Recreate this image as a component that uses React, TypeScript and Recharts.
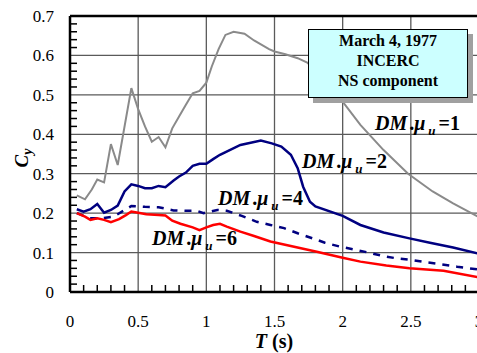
import React from "react";
import {
  LineChart,
  Line,
  XAxis,
  YAxis,
  CartesianGrid,
  ReferenceLine,
} from "recharts";

const SERIF = "'Liberation Serif', 'DejaVu Serif', 'Times New Roman', Times, serif";

// periods T (s) and Cy readings for each ductility curve
const T_MU1 = [0.05, 0.11, 0.16, 0.2, 0.25, 0.3, 0.35, 0.45, 0.5, 0.55, 0.6, 0.65, 0.7, 0.75, 0.8, 0.85, 0.9, 0.95, 1.0, 1.04, 1.09, 1.14, 1.2, 1.28, 1.35, 1.46, 1.5, 1.58, 1.67, 1.74, 1.85, 1.99, 2.13, 2.3, 2.48, 2.66, 2.81, 3.0];
const C_MU1 = [0.245, 0.235, 0.26, 0.285, 0.278, 0.375, 0.322, 0.517, 0.464, 0.42, 0.381, 0.393, 0.367, 0.415, 0.445, 0.475, 0.504, 0.51, 0.531, 0.572, 0.616, 0.652, 0.66, 0.655, 0.638, 0.616, 0.61, 0.603, 0.593, 0.582, 0.545, 0.487, 0.424, 0.36, 0.3, 0.255, 0.225, 0.19];

const T_MU2 = [0.05, 0.1, 0.15, 0.2, 0.25, 0.3, 0.35, 0.4, 0.45, 0.5, 0.55, 0.6, 0.65, 0.7, 0.76, 0.8, 0.85, 0.9, 0.95, 1.0, 1.05, 1.1, 1.25, 1.4, 1.48, 1.55, 1.62, 1.67, 1.71, 1.76, 1.8, 2.0, 2.13, 2.3, 2.49, 2.64, 2.81, 3.0];
const C_MU2 = [0.21, 0.204, 0.21, 0.223, 0.201, 0.208, 0.219, 0.255, 0.273, 0.269, 0.263, 0.263, 0.269, 0.266, 0.283, 0.293, 0.303, 0.32, 0.325, 0.325, 0.337, 0.348, 0.373, 0.384, 0.377, 0.369, 0.348, 0.314, 0.267, 0.229, 0.217, 0.193, 0.17, 0.151, 0.136, 0.125, 0.113, 0.097];

const T_MU4 = [0.05, 0.15, 0.23, 0.32, 0.45, 0.55, 0.65, 0.76, 0.86, 0.93, 0.98, 1.08, 1.15, 1.26, 1.37, 1.47, 1.57, 1.67, 1.78, 1.87, 1.98, 2.08, 2.19, 2.3, 2.4, 2.51, 2.62, 2.73, 2.84, 3.0];
const C_MU4 = [0.2, 0.187, 0.187, 0.191, 0.218, 0.216, 0.215, 0.207, 0.206, 0.206, 0.2, 0.208, 0.206, 0.193, 0.178, 0.17, 0.162, 0.149, 0.136, 0.125, 0.115, 0.108, 0.1, 0.091, 0.085, 0.081, 0.075, 0.07, 0.064, 0.057];

const T_MU6 = [0.05, 0.11, 0.15, 0.2, 0.25, 0.3, 0.36, 0.41, 0.45, 0.5, 0.56, 0.65, 0.7, 0.75, 0.81, 0.9, 0.95, 1.0, 1.05, 1.1, 1.15, 1.25, 1.35, 1.47, 1.81, 2.0, 2.13, 2.32, 2.49, 2.74, 3.0];
const C_MU6 = [0.2, 0.191, 0.183, 0.187, 0.183, 0.177, 0.185, 0.195, 0.204, 0.201, 0.197, 0.195, 0.194, 0.181, 0.173, 0.164, 0.157, 0.164, 0.17, 0.173, 0.166, 0.153, 0.142, 0.128, 0.102, 0.087, 0.077, 0.067, 0.06, 0.054, 0.037];

const X_TICKS = [0, 0.5, 1, 1.5, 2, 2.5, 3];
const Y_TICKS = [0, 0.1, 0.2, 0.3, 0.4, 0.5, 0.6, 0.7];
const X_MINOR = [0.1, 0.2, 0.3, 0.4, 0.6, 0.7, 0.8, 0.9, 1.1, 1.2, 1.3, 1.4, 1.6, 1.7, 1.8, 1.9, 2.1, 2.2, 2.3, 2.4, 2.6, 2.7, 2.8, 2.9];
const Y_MINOR = [0.02, 0.04, 0.06, 0.08, 0.12, 0.14, 0.16, 0.18, 0.22, 0.24, 0.26, 0.28, 0.32, 0.34, 0.36, 0.38, 0.42, 0.44, 0.46, 0.48, 0.52, 0.54, 0.56, 0.58, 0.62, 0.64, 0.66, 0.68];

const zip = (ts: number[], cs: number[]) => ts.map((t, i) => ({ t, c: cs[i] }));

const mu1 = zip(T_MU1, C_MU1);
const mu2 = zip(T_MU2, C_MU2);
const mu4 = zip(T_MU4, C_MU4);
const mu6 = zip(T_MU6, C_MU6);

const ANNOTATIONS = [
  { n: "1", left: 375, base: 130 },
  { n: "2", left: 302, base: 168 },
  { n: "4", left: 218, base: 205 },
  { n: "6", left: 152, base: 245 },
];

// chart box; the plot area follows from margins and axis sizes
const W = 490;
const H = 353;
const MARGIN = { top: 16, right: 11, left: 0, bottom: 0 };
const Y_AXIS_W = 70;
const X_AXIS_H = 61;
const PLOT = {
  left: MARGIN.left + Y_AXIS_W,
  right: W - MARGIN.right,
  top: MARGIN.top,
  bottom: H - MARGIN.bottom - X_AXIS_H,
};
const sx = (t: number) => PLOT.left + (t / 3) * (PLOT.right - PLOT.left);
const sy = (c: number) => PLOT.bottom - (c / 0.7) * (PLOT.bottom - PLOT.top);

// inward minor ticks on the left and bottom axes
function MinorTicks() {
  return (
    <svg
      width={477}
      height={353}
      style={{ position: "absolute", left: 0, top: 0, pointerEvents: "none", zIndex: 1 }}
    >
      {X_MINOR.map((t) => (
        <line key={`x${t}`} x1={sx(t)} x2={sx(t)} y1={PLOT.bottom} y2={PLOT.bottom - 7} stroke="#000" strokeWidth={1.5} />
      ))}
      {Y_MINOR.map((c) => (
        <line key={`y${c}`} x1={PLOT.left} x2={PLOT.left + 7} y1={sy(c)} y2={sy(c)} stroke="#000" strokeWidth={1.5} />
      ))}
    </svg>
  );
}

function DmLabel({ n, left, base }: { n: string; left: number; base: number }) {
  return (
    <div
      style={{
        position: "absolute",
        left,
        top: base - 17,
        fontFamily: SERIF,
        fontWeight: "bold",
        fontSize: 20,
        lineHeight: "20px",
        whiteSpace: "nowrap",
        color: "#000",
        zIndex: 2,
      }}
    >
      <i>DM</i>
      <span style={{ marginLeft: 2 }}>.</span>
      <i>μ</i>
      <i style={{ fontSize: 13, position: "relative", top: 5, marginLeft: 3, marginRight: 3 }}>u</i>
      ={n}
    </div>
  );
}

export default function App() {
  return (
    <div
      style={{
        position: "fixed",
        left: 0,
        top: 0,
        width: 477,
        height: 353,
        overflow: "hidden",
        background: "#fff",
      }}
    >
      <LineChart width={W} height={H} margin={MARGIN}>
        <CartesianGrid stroke="#5a5a5a" strokeWidth={1.3} />
        <XAxis
          type="number"
          dataKey="t"
          domain={[0, 3]}
          ticks={X_TICKS}
          interval={0}
          height={X_AXIS_H}
          tickSize={0}
          tickMargin={23}
          tickLine={false}
          axisLine={{ stroke: "#000", strokeWidth: 2.5 }}
          tick={{ fontFamily: SERIF, fontSize: 17, fill: "#000" }}
          label={{
            content: () => (
              <text x={274} y={348} textAnchor="middle" fontFamily={SERIF} fontSize={20} fontWeight="bold" fill="#000">
                <tspan fontStyle="italic">T</tspan>
                <tspan> (s)</tspan>
              </text>
            ),
          }}
        />
        <YAxis
          type="number"
          domain={[0, 0.7]}
          ticks={Y_TICKS}
          interval={0}
          width={Y_AXIS_W}
          tickSize={0}
          tickMargin={16}
          tickLine={false}
          axisLine={{ stroke: "#000", strokeWidth: 2.5 }}
          tick={{ fontFamily: SERIF, fontSize: 17, fill: "#000" }}
          label={{
            content: () => (
              <text
                x={28}
                y={158}
                transform="rotate(-90 28 158)"
                textAnchor="middle"
                fontFamily={SERIF}
                fontSize={19}
                fontWeight="bold"
                fontStyle="italic"
                fill="#000"
              >
                <tspan>C</tspan>
                <tspan fontSize={14} dy={4}>y</tspan>
              </text>
            ),
          }}
        />
        <ReferenceLine y={0.7} stroke="#000" strokeWidth={2.5} />
        <Line data={mu1} dataKey="c" type="linear" stroke="#8a8a8a" strokeWidth={2} dot={false} isAnimationActive={false} />
        <Line data={mu2} dataKey="c" type="linear" stroke="#000080" strokeWidth={2.5} dot={false} isAnimationActive={false} />
        <Line data={mu4} dataKey="c" type="linear" stroke="#000080" strokeWidth={2.5} strokeDasharray="7 7" dot={false} isAnimationActive={false} />
        <Line data={mu6} dataKey="c" type="linear" stroke="#ff0000" strokeWidth={2.5} dot={false} isAnimationActive={false} />
      </LineChart>

      <MinorTicks />

      <div
        style={{
          position: "absolute",
          left: 308,
          top: 29,
          width: 158,
          height: 66,
          background: "#ccffff",
          border: "1.5px solid #000",
          boxShadow: "5px 5px 0 #a0a0a0",
          fontFamily: SERIF,
          fontWeight: "bold",
          fontSize: 16,
          lineHeight: "20px",
          textAlign: "center",
          paddingTop: 1,
          boxSizing: "content-box",
          zIndex: 2,
        }}
      >
        <div>March 4, 1977</div>
        <div>INCERC</div>
        <div>NS component</div>
      </div>

      {ANNOTATIONS.map((a) => (
        <DmLabel key={a.n} n={a.n} left={a.left} base={a.base} />
      ))}
    </div>
  );
}
